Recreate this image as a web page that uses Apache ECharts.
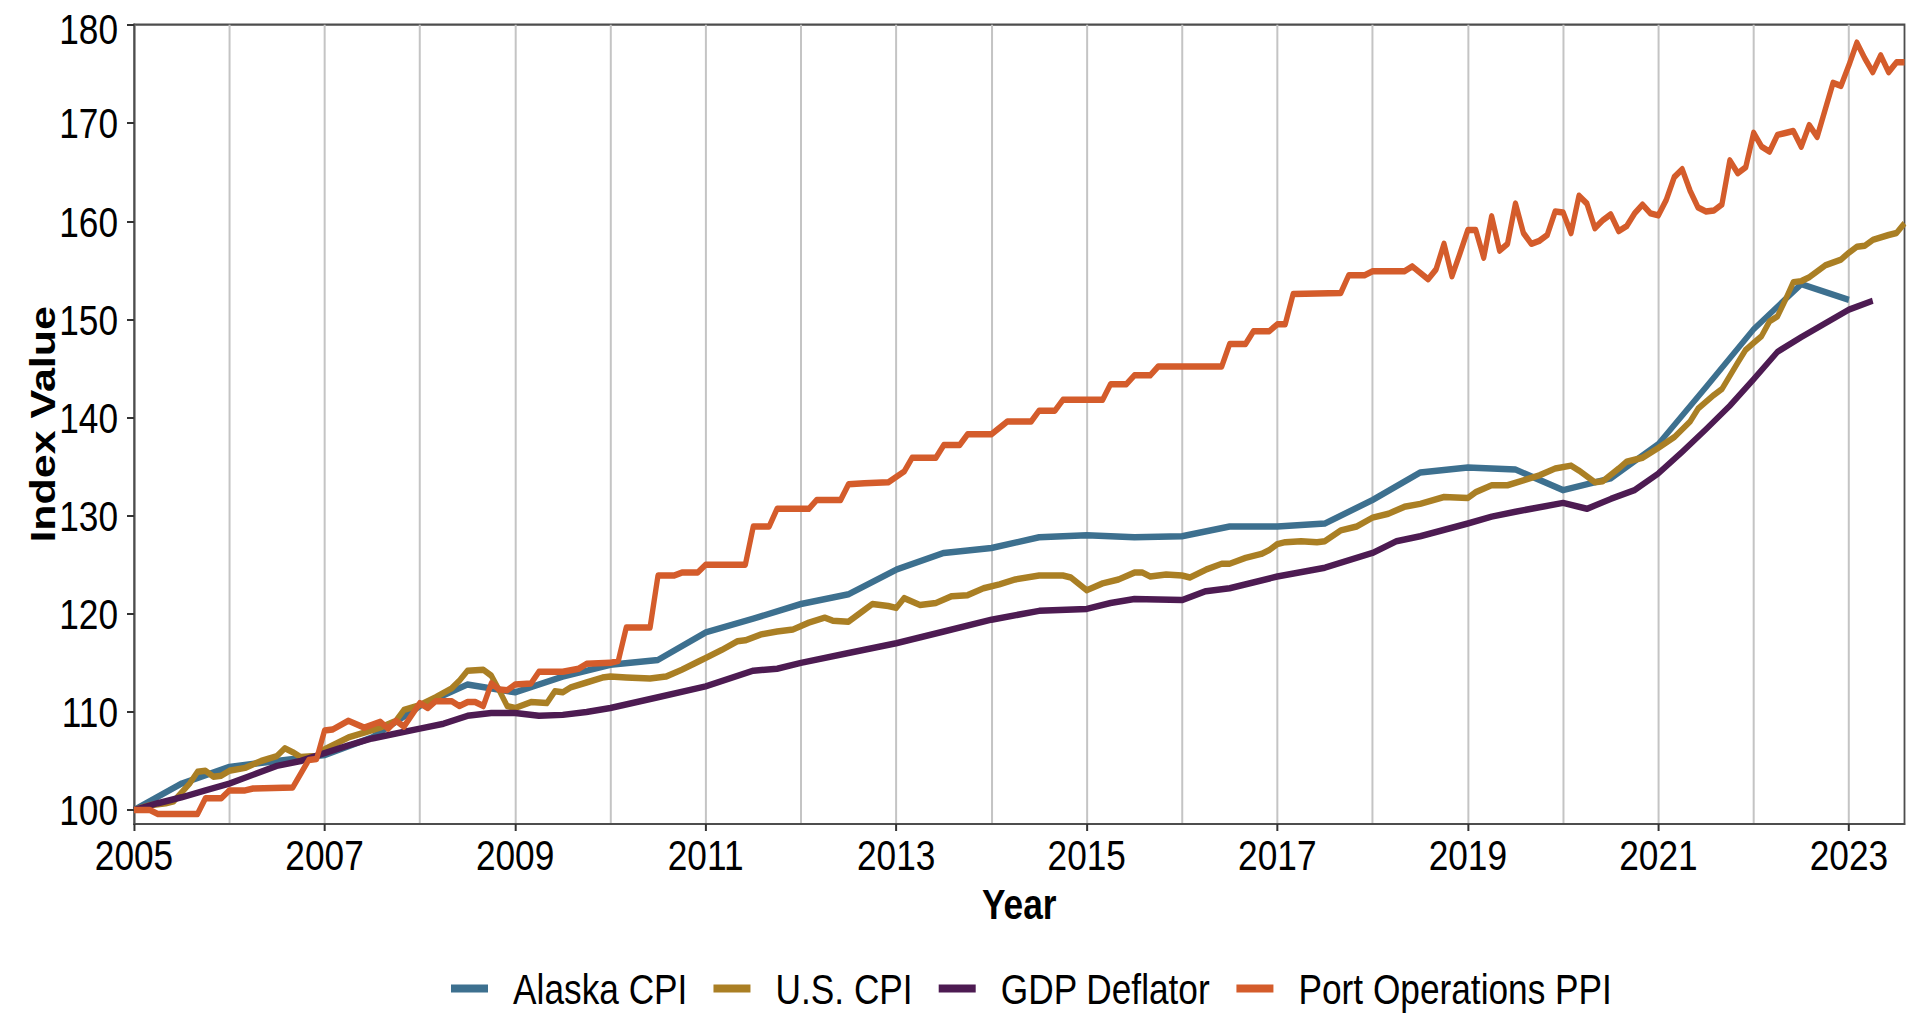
<!DOCTYPE html>
<html>
<head>
<meta charset="utf-8">
<title>Index Value</title>
<script src="https://cdn.jsdelivr.net/npm/echarts@6/dist/echarts.min.js"></script>
<style>
  html, body { margin: 0; padding: 0; background: #fff; overflow: hidden; }
  #wrap { width: 1907px; height: 1014px; overflow: hidden; }
  /* no narrow font installed: draw wider and squeeze horizontally */
  #chart { width: 2326px; height: 1014px; transform: scaleX(0.819862); transform-origin: 0 0; }
</style>
</head>
<body>
<div id="wrap"><div id="chart"></div></div>
<script>
// x positions are months counted from Jan 2005
const BASE_YEAR = 2005;
const LAST_MONTH = 223;

const alaskaMonths = [0, 6, 12, 18, 24, 30, 36, 42, 48, 54, 60, 66, 72, 78, 84, 90, 96, 102, 108, 114, 120, 126, 132, 138, 144, 150, 156, 162, 168, 174, 180, 186, 192, 198, 204, 210, 216];
const alaskaValues = [100.0, 102.7, 104.4, 105.0, 105.6, 107.4, 110.6, 112.8, 112.0, 113.6, 114.8, 115.3, 118.1, 119.5, 121.0, 122.0, 124.5, 126.2, 126.7, 127.8, 128.0, 127.8, 127.9, 128.9, 128.9, 129.2, 131.6, 134.4, 134.9, 134.7, 132.6, 133.8, 137.3, 143.1, 149.0, 153.6, 152.0];

const usCpiMonths = [0, 2, 4, 5, 7, 8, 9, 10, 11, 12, 14, 16, 18, 19, 20, 21, 23, 24, 27, 29, 31, 33, 34, 36, 38, 40, 41, 42, 44, 45, 46, 47, 48, 50, 52, 53, 54, 55, 57, 59, 60, 62, 65, 67, 69, 71, 72, 74, 76, 77, 79, 81, 83, 85, 87, 88, 90, 92, 93, 95, 96, 97, 99, 101, 103, 105, 107, 109, 111, 114, 117, 118, 120, 122, 124, 126, 127, 128, 130, 132, 133, 135, 137, 138, 140, 142, 143, 144, 145, 147, 149, 150, 152, 154, 156, 158, 160, 162, 165, 168, 169, 171, 173, 175, 177, 179, 181, 182, 184, 185, 187, 188, 190, 191, 192, 194, 196, 197, 199, 200, 202, 203, 204, 205, 206, 207, 208, 209, 210, 211, 213, 215, 216, 217, 218, 219, 221, 222, 223];
const usCpiValues = [100.0, 100.5, 100.7, 100.9, 102.7, 103.9, 104.0, 103.4, 103.5, 104.0, 104.3, 105.0, 105.5, 106.3, 105.9, 105.4, 105.5, 106.2, 107.4, 107.9, 108.4, 109.1, 110.2, 110.7, 111.5, 112.4, 113.2, 114.2, 114.3, 113.7, 112.2, 110.6, 110.4, 111.0, 110.9, 112.1, 112.0, 112.5, 113.0, 113.5, 113.6, 113.5, 113.4, 113.6, 114.3, 115.1, 115.5, 116.3, 117.2, 117.3, 117.9, 118.2, 118.4, 119.1, 119.6, 119.3, 119.2, 120.4, 121.0, 120.8, 120.6, 121.6, 120.9, 121.1, 121.8, 121.9, 122.6, 123.0, 123.5, 123.9, 123.9, 123.7, 122.4, 123.1, 123.5, 124.2, 124.2, 123.8, 124.0, 123.9, 123.7, 124.5, 125.1, 125.1, 125.7, 126.1, 126.5, 127.1, 127.3, 127.4, 127.3, 127.4, 128.5, 128.9, 129.8, 130.2, 130.9, 131.2, 131.9, 131.8, 132.4, 133.1, 133.1, 133.6, 134.1, 134.8, 135.1, 134.6, 133.4, 133.5, 134.8, 135.5, 135.9, 136.4, 136.9, 138.0, 139.6, 140.9, 142.3, 142.9, 145.6, 146.9, 147.6, 148.3, 149.8, 150.3, 152.0, 153.8, 153.9, 154.3, 155.5, 156.1, 156.8, 157.4, 157.5, 158.1, 158.6, 158.8, 159.8];

const gdpMonths = [0, 3, 6, 9, 12, 15, 18, 21, 24, 27, 30, 33, 36, 39, 42, 45, 48, 51, 54, 57, 60, 66, 72, 78, 81, 84, 90, 96, 102, 108, 114, 120, 123, 126, 132, 135, 138, 144, 150, 156, 159, 162, 168, 171, 174, 180, 183, 186, 189, 192, 195, 198, 201, 204, 207, 210, 213, 216, 219];
const gdpValues = [100.0, 100.7, 101.3, 102.0, 102.7, 103.6, 104.5, 105.0, 105.8, 106.6, 107.3, 107.8, 108.3, 108.8, 109.6, 109.9, 109.9, 109.6, 109.7, 110.0, 110.4, 111.5, 112.6, 114.2, 114.4, 115.0, 116.0, 117.0, 118.2, 119.4, 120.3, 120.5, 121.1, 121.5, 121.4, 122.3, 122.6, 123.8, 124.7, 126.2, 127.4, 127.9, 129.2, 129.9, 130.4, 131.3, 130.7, 131.7, 132.6, 134.3, 136.5, 138.8, 141.2, 143.9, 146.7, 148.2, 149.6, 151.0, 151.9];

const ppiMonths = [0, 2, 3, 8, 9, 11, 12, 14, 15, 20, 22, 23, 24, 25, 27, 29, 31, 32, 33, 34, 36, 37, 38, 40, 41, 42, 43, 44, 45, 46, 47, 48, 50, 51, 54, 56, 57, 60, 61, 62, 65, 66, 68, 69, 71, 72, 77, 78, 80, 81, 85, 86, 89, 90, 92, 95, 97, 98, 101, 102, 104, 105, 108, 110, 113, 114, 116, 117, 122, 123, 125, 126, 128, 129, 137, 138, 140, 141, 143, 144, 145, 146, 152, 153, 155, 156, 160, 161, 163, 164, 165, 166, 167, 168, 169, 170, 171, 172, 173, 174, 175, 176, 177, 178, 179, 180, 181, 182, 183, 184, 185, 186, 187, 188, 189, 190, 191, 192, 193, 194, 195, 196, 197, 198, 199, 200, 201, 202, 203, 204, 205, 206, 207, 208, 209, 210, 211, 212, 214, 215, 216, 217, 218, 219, 220, 221, 222, 223];
const ppiValues = [100.0, 100.0, 99.6, 99.6, 101.2, 101.2, 102.0, 102.0, 102.2, 102.3, 105.1, 105.2, 108.1, 108.2, 109.1, 108.4, 109.0, 108.3, 109.1, 108.5, 110.9, 110.4, 111.1, 111.1, 110.6, 111.0, 111.0, 110.6, 112.9, 112.3, 112.2, 112.8, 112.9, 114.1, 114.1, 114.4, 114.9, 115.0, 115.2, 118.6, 118.6, 123.9, 123.9, 124.2, 124.2, 125.0, 125.0, 128.9, 128.9, 130.7, 130.7, 131.6, 131.6, 133.2, 133.3, 133.4, 134.5, 135.9, 135.9, 137.2, 137.2, 138.3, 138.3, 139.6, 139.6, 140.7, 140.7, 141.8, 141.8, 143.4, 143.4, 144.3, 144.3, 145.2, 145.2, 147.5, 147.5, 148.8, 148.8, 149.5, 149.5, 152.6, 152.7, 154.5, 154.5, 154.9, 154.9, 155.4, 154.1, 155.1, 157.7, 154.4, 156.7, 159.1, 159.1, 156.3, 160.5, 157.0, 157.7, 161.8, 158.8, 157.7, 158.0, 158.6, 161.0, 160.9, 158.8, 162.6, 161.8, 159.3, 160.1, 160.7, 159.0, 159.5, 160.8, 161.7, 160.8, 160.6, 162.2, 164.5, 165.3, 163.1, 161.4, 161.0, 161.1, 161.7, 166.2, 164.9, 165.5, 169.0, 167.6, 167.1, 168.8, 169.0, 169.2, 167.6, 169.8, 168.6, 174.1, 173.8, 175.9, 178.2, 176.6, 175.2, 176.9, 175.2, 176.2, 176.2];

const seriesNames = ['Alaska CPI', 'U.S. CPI', 'GDP Deflator', 'Port Operations PPI'];
const seriesColors = ['#3d708f', '#aa7f24', '#4d1b52', '#d45c2b'];
const yTicks = [100, 110, 120, 130, 140, 150, 160, 170, 180];
const xTickYears = [2005, 2007, 2009, 2011, 2013, 2015, 2017, 2019, 2021, 2023];

const FONT = "'Liberation Sans', Arial, sans-serif";
const AXIS_COLOR = '#4d4d4d';
const SX = 1907 / 2326; // horizontal squeeze set in the css
const hx = px => px / SX;  // screen px -> pre-squeeze px, horizontal only

function toPoints(months, values) {
  return months.map((m, i) => [m / 12, values[i]]);
}

const seriesData = [
  toPoints(alaskaMonths, alaskaValues),
  toPoints(usCpiMonths, usCpiValues),
  toPoints(gdpMonths, gdpValues),
  toPoints(ppiMonths, ppiValues)
];

const labelText = { fontFamily: FONT, fontSize: 43, color: '#000' };

const chart = echarts.init(document.getElementById('chart'), null, { renderer: 'svg' });

chart.setOption({
  animation: false,
  backgroundColor: '#fff',
  color: seriesColors,
  grid: {
    left: hx(134),
    right: hx(2.5),
    top: 20,
    bottom: 190,
    show: true,
    borderColor: AXIS_COLOR,
    borderWidth: 2.2
  },
  legend: {
    data: seriesNames,
    left: hx(451),
    top: 967,
    padding: 0,
    itemGap: hx(26),
    itemWidth: hx(37),
    itemHeight: 8,
    icon: 'rect',
    textStyle: Object.assign({ lineHeight: 36, padding: [0, 0, 0, hx(21)] }, labelText)
  },
  xAxis: {
    type: 'value',
    min: 0,
    max: LAST_MONTH / 12,
    interval: 2,
    name: 'Year',
    nameLocation: 'middle',
    nameGap: 58,
    nameMoveOverlap: false,
    nameTextStyle: Object.assign({ fontWeight: 'bold' }, labelText),
    axisLine: { show: true, lineStyle: { color: AXIS_COLOR, width: 2 } },
    axisTick: {
      show: true,
      length: 7,
      customValues: xTickYears.map(y => y - BASE_YEAR),
      lineStyle: { color: '#333', width: hx(2) }
    },
    axisLabel: Object.assign({
      margin: 9,
      customValues: xTickYears.map(y => y - BASE_YEAR),
      formatter: v => String(Math.round(v + BASE_YEAR))
    }, labelText),
    splitLine: { show: true, lineStyle: { color: '#c4c4c4', width: hx(2) } },
    minorTick: { show: false, splitNumber: 2 },
    minorSplitLine: { show: true, lineStyle: { color: '#c4c4c4', width: hx(2) } }
  },
  yAxis: {
    type: 'value',
    min: 98.58,
    max: 180.03,
    name: 'Index Value',
    nameLocation: 'middle',
    nameGap: hx(74),
    nameMoveOverlap: false,
    nameTextStyle: Object.assign({ fontWeight: 'bold' }, labelText),
    axisLine: { show: true, lineStyle: { color: AXIS_COLOR, width: hx(2) } },
    axisTick: { show: true, length: hx(7), customValues: yTicks, lineStyle: { color: '#333', width: 2 } },
    axisLabel: Object.assign({
      margin: hx(16),
      lineHeight: 38,
      customValues: yTicks,
      // top label sits against the page edge, nudge it down a little
      formatter: v => v === yTicks[yTicks.length - 1] ? '{top|' + v + '}' : String(v),
      rich: { top: Object.assign({ lineHeight: 38, padding: [7, 0, 0, 0] }, labelText) }
    }, labelText),
    splitLine: { show: false }
  },
  series: seriesNames.map((name, i) => ({
    name: name,
    type: 'line',
    data: seriesData[i],
    showSymbol: false,
    symbol: 'none',
    lineStyle: { width: 6.5, color: seriesColors[i], join: 'round', cap: 'butt' },
    z: 2 + i
  }))
});
</script>
</body>
</html>
